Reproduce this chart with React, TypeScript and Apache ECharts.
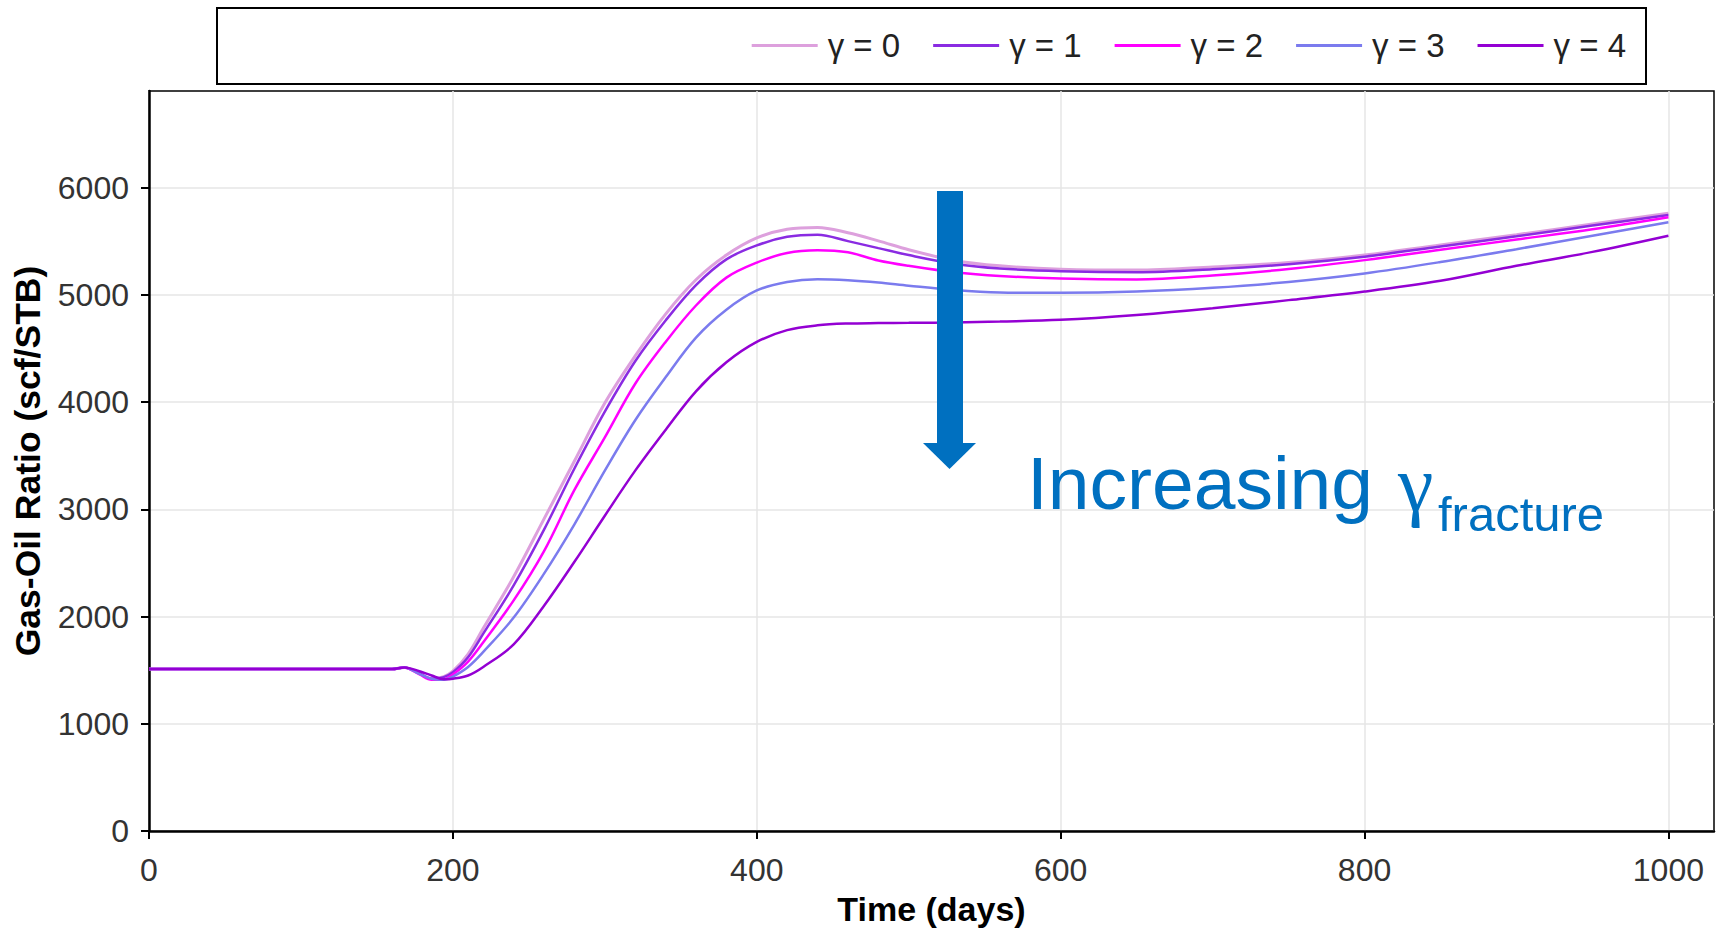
import React, { useEffect, useRef } from 'react';
import * as echarts from 'echarts';

const days = [0, 160, 168, 178, 186, 194, 200, 210, 220, 240, 260, 280, 300, 320, 340, 360, 380, 400, 420, 440, 460, 480, 500, 530, 560, 600, 650, 700, 750, 800, 850, 900, 950, 1000];

const gamma0 = [1510, 1510, 1525, 1470, 1420, 1440, 1490, 1650, 1890, 2370, 2910, 3450, 3990, 4430, 4820, 5140, 5370, 5530, 5610, 5628, 5578, 5503, 5420, 5320, 5270, 5239, 5230, 5260, 5300, 5370, 5465, 5560, 5660, 5760];
const gamma1 = [1510, 1510, 1525, 1470, 1420, 1435, 1480, 1620, 1840, 2290, 2810, 3380, 3910, 4380, 4760, 5090, 5330, 5460, 5540, 5560, 5500, 5435, 5370, 5290, 5245, 5220, 5210, 5238, 5285, 5355, 5450, 5545, 5645, 5744];
const gamma2 = [1510, 1510, 1525, 1460, 1410, 1415, 1460, 1580, 1760, 2150, 2610, 3180, 3670, 4170, 4560, 4900, 5160, 5300, 5390, 5415, 5396, 5320, 5270, 5210, 5175, 5152, 5143, 5180, 5240, 5323, 5420, 5515, 5610, 5722];
const gamma3 = [1510, 1510, 1525, 1465, 1420, 1410, 1440, 1530, 1670, 1990, 2400, 2860, 3360, 3830, 4230, 4600, 4860, 5040, 5120, 5145, 5136, 5115, 5085, 5045, 5022, 5018, 5030, 5065, 5120, 5199, 5305, 5425, 5550, 5676];
const gamma4 = [1510, 1510, 1525, 1490, 1450, 1415, 1420, 1450, 1530, 1740, 2100, 2510, 2940, 3360, 3740, 4100, 4370, 4560, 4670, 4715, 4732, 4736, 4738, 4742, 4750, 4766, 4812, 4875, 4950, 5030, 5130, 5270, 5400, 5551];

const seriesNames = ['γ = 0', 'γ = 1', 'γ = 2', 'γ = 3', 'γ = 4'];
const seriesValues = [gamma0, gamma1, gamma2, gamma3, gamma4];
const seriesColors = ['#DDA0DD', '#8A2BE2', '#FF00FF', '#7B7BEE', '#9400D3'];

const xTicks = [0, 200, 400, 600, 800, 1000];
const yTicks = [0, 1000, 2000, 3000, 4000, 5000, 6000];

const xTitle = 'Time (days)';
const yTitle = 'Gas-Oil Ratio (scf/STB)';
const annoMain = 'Increasing';
const annoGreek = 'γ';
const annoSub = 'fracture';

const FONT = '"Liberation Sans", Arial, sans-serif';
const BLUE = '#0070C0';

export default function App() {
  const ref = useRef<HTMLDivElement>(null);
  useEffect(() => {
    const chart = echarts.init(ref.current!, null, { renderer: 'svg' });
    const option: any = {
      animation: false,
      backgroundColor: '#fff',
      textStyle: { fontFamily: FONT },
      grid: {
        left: 149,
        right: 12,
        top: 91,
        bottom: 100,
        show: true,
        borderColor: '#000',
        borderWidth: 1.5,
        backgroundColor: 'transparent',
      },
      legend: {
        data: seriesNames,
        right: 100,
        top: 29,
        padding: 0,
        itemGap: 33,
        itemWidth: 66,
        itemHeight: 3,
        icon: 'rect',
        textStyle: { fontSize: 33, color: '#222', fontFamily: FONT, padding: [0, 0, 0, 5] },
      },
      xAxis: {
        type: 'value',
        min: 0,
        max: 1030,
        interval: 200,
        name: xTitle,
        nameLocation: 'middle',
        nameGap: 61,
        nameTextStyle: { fontSize: 34, fontWeight: 'bold', color: '#000', fontFamily: FONT },
        axisLine: { show: true, onZero: false, lineStyle: { color: '#000', width: 2.5 } },
        axisTick: { show: true, length: 8, customValues: xTicks, lineStyle: { color: '#000', width: 2 } },
        axisLabel: { customValues: xTicks, fontSize: 32, color: '#333', margin: 23, fontFamily: FONT, formatter: (v: number) => String(v) },
        splitLine: { show: true, lineStyle: { color: '#e6e6e6', width: 1.5 } },
      },
      yAxis: {
        type: 'value',
        min: 0,
        max: 6900,
        interval: 1000,
        name: yTitle,
        nameLocation: 'middle',
        nameGap: 103,
        nameTextStyle: { fontSize: 35.5, fontWeight: 'bold', color: '#000', fontFamily: FONT },
        axisLine: { show: true, onZero: false, lineStyle: { color: '#000', width: 2.5 } },
        axisTick: { show: true, length: 8, customValues: yTicks, lineStyle: { color: '#000', width: 2 } },
        axisLabel: { customValues: yTicks, fontSize: 32, color: '#333', margin: 20, fontFamily: FONT, formatter: (v: number) => String(v) },
        splitLine: { show: true, lineStyle: { color: '#e6e6e6', width: 1.5 } },
      },
      series: seriesNames.map((name, i) => ({
        name,
        type: 'line',
        data: days.map((d, j) => [d, seriesValues[i][j]]),
        showSymbol: false,
        smooth: 0.35,
        lineStyle: { color: seriesColors[i], width: i === 0 ? 3 : 2.5 },
        itemStyle: { color: seriesColors[i] },
        z: 2 + i,
      })),
      graphic: [
        {
          type: 'rect',
          shape: { x: 217, y: 8, width: 1429, height: 76 },
          style: { fill: 'none', stroke: '#000', lineWidth: 2 },
          z: 10,
        },
        {
          type: 'rect',
          shape: { x: 937, y: 191, width: 26, height: 253 },
          style: { fill: BLUE },
          z: 20,
        },
        {
          type: 'polygon',
          shape: { points: [[923, 443], [976, 443], [949.5, 469]] },
          style: { fill: BLUE },
          z: 20,
        },
        {
          type: 'text',
          x: 1027,
          y: 483,
          style: { text: annoMain, fill: BLUE, font: `75px ${FONT}`, verticalAlign: 'middle', align: 'left' },
          z: 20,
        },
        {
          type: 'text',
          x: 1398,
          y: 484,
          style: { text: annoGreek, fill: BLUE, font: `80px "Liberation Serif", serif`, verticalAlign: 'middle', align: 'left' },
          z: 20,
        },
        {
          type: 'text',
          x: 1438,
          y: 514,
          style: { text: annoSub, fill: BLUE, font: `49px ${FONT}`, verticalAlign: 'middle', align: 'left' },
          z: 20,
        },
      ],
    };
    chart.setOption(option);
    return () => chart.dispose();
  }, []);
  return <div ref={ref} style={{ position: 'fixed', left: 0, top: 0, width: 1726, height: 931 }} />;
}
